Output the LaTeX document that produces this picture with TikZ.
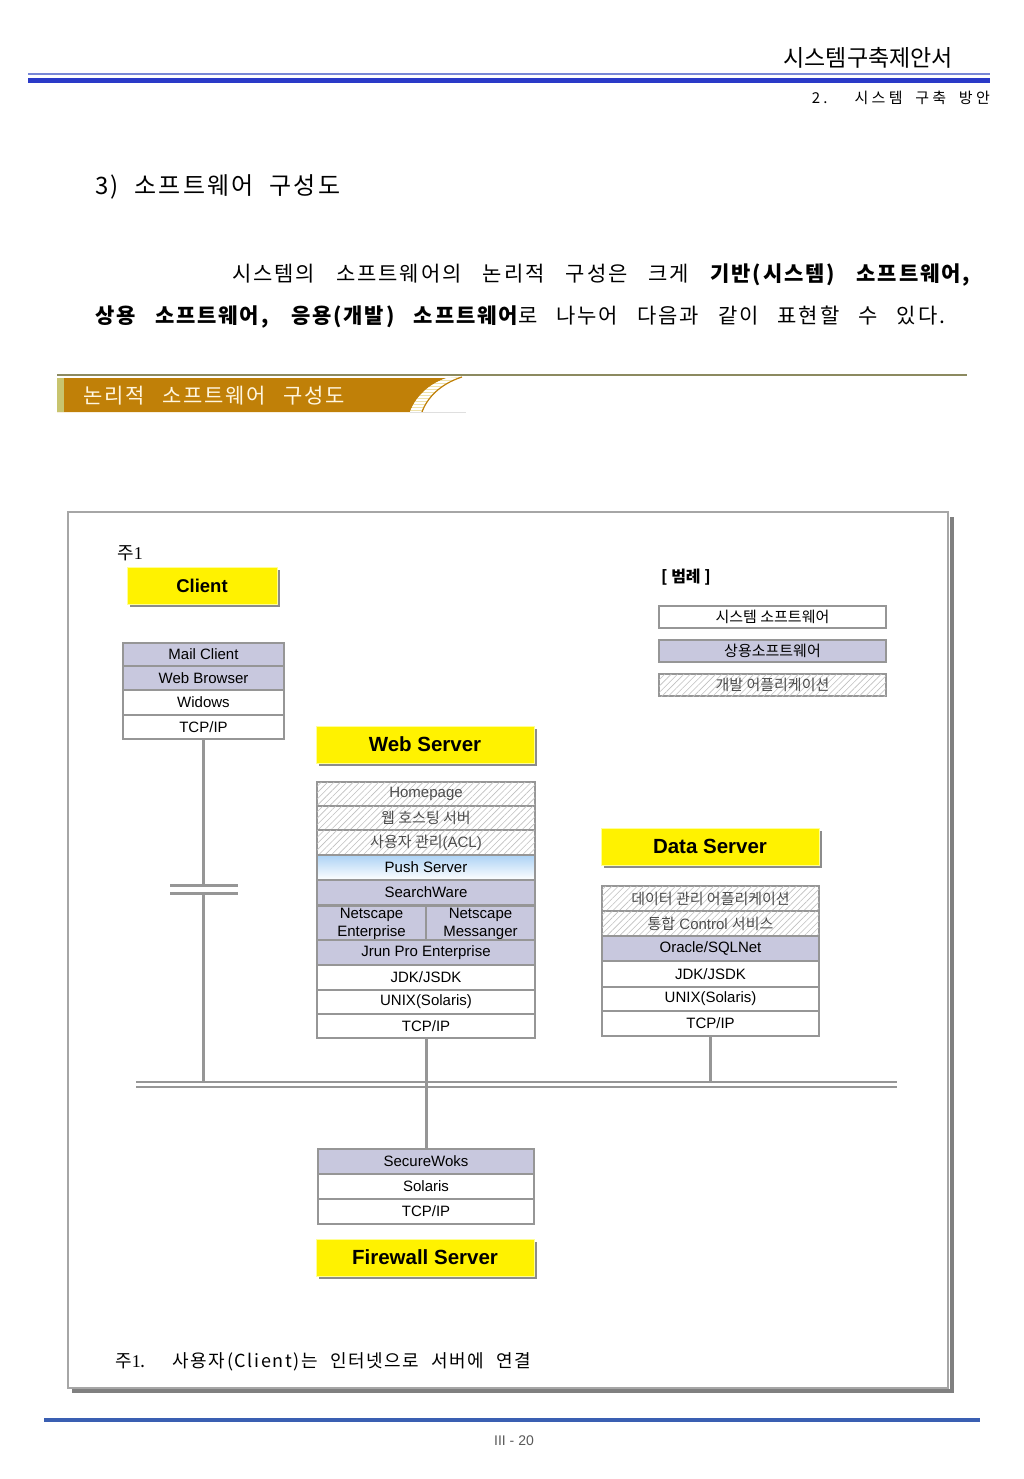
\documentclass[tikz,border=0pt]{standalone}
\usepackage{fontspec}
\setmainfont{Liberation Sans}
\newfontfamily\kr{Noto Sans CJK KR}
\newfontfamily\krs{Noto Sans CJK KR}[LetterSpace=9]
\newfontfamily\krw{Noto Sans CJK KR}[LetterSpace=22]
\usetikzlibrary{patterns.meta,shadows}
\definecolor{lav}{RGB}{200,200,222}
\definecolor{cellline}{RGB}{150,150,150}
\definecolor{connline}{RGB}{150,150,150}
\definecolor{hdrblue}{RGB}{42,58,200}
\definecolor{hdrthin}{RGB}{120,135,215}
\definecolor{footblue}{RGB}{58,95,178}
\definecolor{gold}{RGB}{192,128,8}
\definecolor{olive}{RGB}{200,196,110}
\definecolor{oliveline}{RGB}{140,138,96}
\definecolor{cream}{RGB}{255,246,224}
\definecolor{bandcream}{RGB}{238,226,170}
\definecolor{pushblue}{RGB}{172,210,245}
\definecolor{ybord}{RGB}{255,255,150}
\newcommand\myfs[1]{\fontsize{#1}{#1}\selectfont}
\begin{document}
\begin{tikzpicture}[x=1pt,y=-1pt,
  cellbase/.style={draw=cellline, line width=1.6pt, inner sep=0pt, font=\myfs{15}, text=black},
  syscell/.style={cellbase, fill=white},
  comcell/.style={cellbase, fill=lav},
  devcell/.style={cellbase, fill=white, text=black!70,
     postaction={pattern={Lines[angle=45,distance=4.5pt,line width=0.6pt]}, pattern color=gray!50}},
  pushcell/.style={cellbase, top color=pushblue, bottom color=white},
  ybox/.style={fill=yellow, draw=ybord, line width=1pt, inner sep=0pt, font=\bfseries\myfs{20.5},
     minimum width=218pt, minimum height=37pt,
     drop shadow={shadow xshift=3pt, shadow yshift=-3pt, fill=black!45, opacity=1}},
  conn/.style={draw=connline, line width=3pt},
  busline/.style={draw=connline, line width=2pt},
]
\useasboundingbox (0,0) rectangle (1024,1479);

% ---------- header ----------
\node[anchor=east, inner sep=0pt, font=\kr\myfs{23}] (title) at (953,58) {시스템구축제안서};
\draw[line width=2pt, color=hdrthin] (28,74.5) -- (990,74.5);
\draw[line width=5pt, color=hdrblue] (28,81) -- (990,81);
\node[anchor=east, inner sep=0pt, font=\krw\myfs{15}] (sub) at (990,98) {\makebox[178pt][s]{2. 시스템 구축 방안}};

% ---------- section text ----------
\node[anchor=west, inner sep=0pt, font=\krs\myfs{24}] (sect) at (95,187) {\makebox[245pt][s]{3) 소프트웨어 구성도}};
\node[anchor=west, inner sep=0pt, font=\krs\myfs{21}] (body1) at (232,275)
  {\makebox[738pt][s]{시스템의 소프트웨어의 논리적 구성은 크게 {\bfseries 기반(시스템) 소프트웨어,}}};
\node[anchor=west, inner sep=0pt, font=\krs\myfs{21}] (body2) at (95,317)
  {\makebox[850pt][s]{{\bfseries 상용 소프트웨어, 응용(개발) 소프트웨어}로 나누어 다음과 같이 표현할 수 있다.}};

% ---------- banner ----------
\draw[line width=1.5pt, color=oliveline] (57,375) -- (967,375);
\fill[gold] (57,378) -- (447,378) .. controls (428,384) and (415,398) .. (410,412) -- (57,412) -- cycle;
\fill[olive] (57,378) rectangle (64,412);
\begin{scope}
  \clip (447,378) .. controls (428,384) and (415,398) .. (410,412) -- (422,412)
     .. controls (427,398) and (440,384) .. (462,377) -- cycle;
  \fill[bandcream] (405,376) rectangle (465,413);
  \foreach \yy in {379,382,...,412} { \draw[white, line width=1.1pt] (405,\yy) -- (465,\yy); }
\end{scope}
\draw[gold, line width=1.2pt] (422,412) .. controls (427,398) and (440,384) .. (462,377);
\draw[gray!25, line width=1pt] (410,412.5) -- (466,412.5);
\node[anchor=west, inner sep=0pt, font=\krs\myfs{21}, text=cream] (bannertxt) at (83,396)
  {\makebox[262pt][s]{논리적 소프트웨어 구성도}};

% ---------- frame ----------
\draw[line width=4pt, color=black!50] (952,517) -- (952,1391) -- (72,1391);
\draw[line width=1.6pt, color=gray!70, fill=white] (68,512) rectangle (948,1388);

% ---------- client ----------
\node[anchor=west, inner sep=0pt, font=\kr\myfs{18}] (note1) at (117,553) {주{\fontspec{Liberation Serif}1}};
\node[ybox, minimum width=150pt, font=\bfseries\myfs{18.5}] (client) at (202,585.5) {Client};
\node[comcell, minimum width=161pt, minimum height=23pt] (c1) at (203.5,654.5) {Mail Client};
\node[comcell, minimum width=161pt, minimum height=24pt] (c2) at (203.5,678) {Web Browser};
\node[syscell, minimum width=161pt, minimum height=25pt] (c3) at (203.5,702.5) {Widows};
\node[syscell, minimum width=161pt, minimum height=24pt] (c4) at (203.5,727) {TCP/IP};

% ---------- legend ----------
\node[anchor=west, inner sep=0pt, font=\kr\bfseries\myfs{16}] (legtitle) at (661,577) {[ 범례 ]};
\node[syscell, minimum width=227pt, minimum height=22pt] (lg1) at (772.5,617) {\kr 시스템 소프트웨어};
\node[comcell, minimum width=227pt, minimum height=22pt] (lg2) at (772.5,651) {\kr 상용소프트웨어};
\node[devcell, minimum width=227pt, minimum height=22pt] (lg3) at (772.5,685) {\kr 개발 어플리케이션};

% ---------- web server ----------
\node[ybox] (web) at (425,744.5) {Web Server};
\node[devcell, minimum width=218pt, minimum height=24pt] (w1) at (426,794) {Homepage};
\node[devcell, minimum width=218pt, minimum height=24pt] (w2) at (426,818) {\kr 웹 호스팅 서버};
\node[devcell, minimum width=218pt, minimum height=25pt] (w3) at (426,842.5) {{\kr 사용자 관리}(ACL)};
\node[pushcell, minimum width=218pt, minimum height=25pt] (w4) at (426,867.5) {Push Server};
\node[comcell, minimum width=218pt, minimum height=25pt] (w5) at (426,892.5) {SearchWare};
\node[comcell, minimum width=109pt, minimum height=35pt, align=center, font=\fontsize{15}{18}\selectfont] (w6a) at (371.5,923.5) {Netscape\\Enterprise};
\node[comcell, minimum width=109pt, minimum height=35pt, align=center, font=\fontsize{15}{18}\selectfont] (w6b) at (480.5,923.5) {Netscape\\Messanger};
\node[comcell, minimum width=218pt, minimum height=25pt] (w7) at (426,952.5) {Jrun Pro Enterprise};
\node[syscell, minimum width=218pt, minimum height=25pt] (w8) at (426,977.5) {JDK/JSDK};
\node[syscell, minimum width=218pt, minimum height=24pt] (w9) at (426,1002) {UNIX(Solaris)};
\node[syscell, minimum width=218pt, minimum height=24pt] (w10) at (426,1026) {TCP/IP};

% ---------- data server ----------
\node[ybox] (data) at (710,846.5) {Data Server};
\node[devcell, minimum width=217pt, minimum height=25pt] (d1) at (710.5,898.5) {\kr 데이터 관리 어플리케이션};
\node[devcell, minimum width=217pt, minimum height=25pt] (d2) at (710.5,923.5) {{\kr 통합} Control {\kr 서비스}};
\node[comcell, minimum width=217pt, minimum height=25pt] (d3) at (710.5,948.5) {Oracle/SQLNet};
\node[syscell, minimum width=217pt, minimum height=26pt] (d4) at (710.5,974) {JDK/JSDK};
\node[syscell, minimum width=217pt, minimum height=24pt] (d5) at (710.5,999) {UNIX(Solaris)};
\node[syscell, minimum width=217pt, minimum height=25pt] (d6) at (710.5,1023.5) {TCP/IP};

% ---------- firewall ----------
\node[comcell, minimum width=216pt, minimum height=25pt] (f1) at (426,1161.5) {SecureWoks};
\node[syscell, minimum width=216pt, minimum height=25pt] (f2) at (426,1186.5) {Solaris};
\node[syscell, minimum width=216pt, minimum height=25pt] (f3) at (426,1211.5) {TCP/IP};
\node[ybox] (fw) at (425,1257.5) {Firewall Server};

% ---------- connectors ----------
\coordinate (brkTL) at (170,885);
\coordinate (brkTR) at (238,885);
\coordinate (brkBL) at (170,893);
\coordinate (brkBR) at (238,893);
\coordinate (busAL) at (136,1082);
\coordinate (busAR) at (897,1082);
\coordinate (busBL) at (136,1087);
\coordinate (busBR) at (897,1087);
\draw[conn] (c4.south) -- (c4.south |- brkTL);
\draw[conn] (c4.south |- brkBL) -- (c4.south |- busAL);
\draw[conn] (brkTL) -- (brkTR);
\draw[conn] (brkBL) -- (brkBR);
\draw[conn] (w10.south) -- (f1.north);
\draw[conn] (d6.south) -- (d6.south |- busAL);
\draw[busline] (busAL) -- (busAR);
\draw[busline] (busBL) -- (busBR);

% ---------- footnote ----------
\node[anchor=west, inner sep=0pt, font=\krs\myfs{18}] (note2) at (115,1362)
  {\makebox[416pt][s]{주{\fontspec{Liberation Serif}1}. 사용자(Client)는 인터넷으로 서버에 연결}};

% ---------- footer ----------
\draw[line width=4pt, color=footblue] (44,1420) -- (980,1420);
\node[inner sep=0pt, font=\myfs{14}, text=black!65] (pageno) at (514,1441) {III - 20};
\end{tikzpicture}
\end{document}
